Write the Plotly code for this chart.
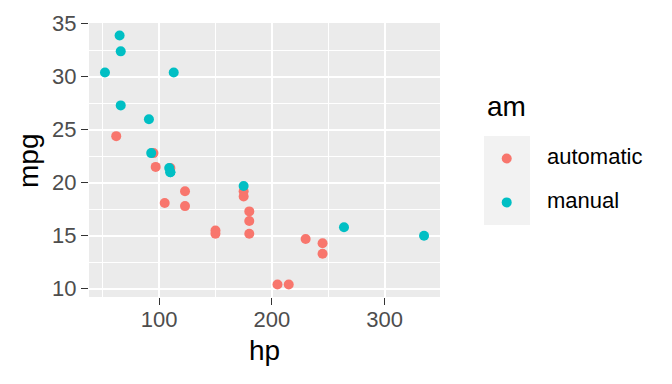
import plotly.graph_objects as go

# mtcars: hp, mpg, am
hp = [110, 110, 93, 110, 175, 105, 245, 62, 95, 123, 123, 180, 180, 180, 205, 215,
      230, 66, 52, 65, 97, 150, 150, 245, 175, 66, 91, 113, 264, 175, 335, 109]
mpg = [21.0, 21.0, 22.8, 21.4, 18.7, 18.1, 14.3, 24.4, 22.8, 19.2, 17.8, 16.4, 17.3, 15.2,
       10.4, 10.4, 14.7, 32.4, 30.4, 33.9, 21.5, 15.5, 15.2, 13.3, 19.2, 27.3, 26.0, 30.4,
       15.8, 19.7, 15.0, 21.4]
am = [1, 1, 1, 0, 0, 0, 0, 0, 0, 0, 0, 0, 0, 0, 0, 0,
      0, 1, 1, 1, 0, 0, 0, 0, 0, 1, 1, 1, 1, 1, 1, 1]
groups = ["automatic", "manual"]
colors = ["#F8766D", "#00BFC4"]
x_ticks = [100, 200, 300]
y_ticks = [10, 15, 20, 25, 30, 35]

W, H = 672, 384
L, R, T, B = 89, 440, 14, 297
FONT = "Liberation Sans, Arial, sans-serif"

def px(x):
    return (x - L) / (R - L)

def py(y):
    return (B - y) / (B - T)

fig = go.Figure()
for g, (name, col) in enumerate(zip(groups, colors)):
    xs = [h for h, a in zip(hp, am) if a == g]
    ys = [m for m, a in zip(mpg, am) if a == g]
    fig.add_trace(go.Scatter(x=xs, y=ys, mode="markers", name=name,
                             marker=dict(color=col, size=10, line=dict(width=0)),
                             showlegend=False))

axis_common = dict(
    showgrid=True, gridcolor="white", gridwidth=2,
    zeroline=False, showline=False,
    ticks="outside", ticklen=7, tickwidth=1.3, tickcolor="#333333",
    tickfont=dict(family=FONT, size=22, color="#4D4D4D"),
)
fig.update_xaxes(range=[37.85, 349.15], tickvals=x_ticks, ticklabelstandoff=-4,
                 minor=dict(tickvals=[50, 150, 250], showgrid=True, gridcolor="white",
                            gridwidth=1, ticks=""),
                 **axis_common)
fig.update_yaxes(range=[9.225, 35.075], tickvals=y_ticks,
                 minor=dict(tickvals=[12.5, 17.5, 22.5, 27.5, 32.5], showgrid=True,
                            gridcolor="white", gridwidth=1, ticks=""),
                 **axis_common)

shapes = [
    # legend key background
    dict(type="rect", xref="paper", yref="paper", x0=px(484), x1=px(530),
         y0=py(222.7), y1=py(130.7), fillcolor="#F2F2F2", line=dict(width=0), layer="below"),
]
key_y = [154, 199.3]
for ky, col in zip(key_y, colors):
    shapes.append(dict(type="circle", xref="paper", yref="paper",
                       xsizemode="pixel", ysizemode="pixel",
                       xanchor=px(506.7), yanchor=py(ky),
                       x0=-5, x1=5, y0=-5, y1=5,
                       fillcolor=col, line=dict(width=0)))

annotations = [
    dict(text="hp", xref="paper", yref="paper", x=px(264.5), y=py(352),
         xanchor="center", yanchor="middle", showarrow=False,
         font=dict(family=FONT, size=28, color="black")),
    dict(text="mpg", xref="paper", yref="paper", x=px(29), y=py(156.5),
         xanchor="center", yanchor="middle", showarrow=False, textangle=-90,
         font=dict(family=FONT, size=28, color="black")),
    dict(text="am", xref="paper", yref="paper", x=px(485), y=py(100),
         xanchor="left", yanchor="middle", showarrow=False,
         font=dict(family=FONT, size=28, color="black")),
]
for ky, name in zip(key_y, groups):
    annotations.append(dict(text=name, xref="paper", yref="paper", x=px(545), y=py(ky - 2),
                            xanchor="left", yanchor="middle", showarrow=False,
                            font=dict(family=FONT, size=22, color="black")))

fig.update_layout(
    width=W, height=H,
    margin=dict(l=L, r=W - R, t=T, b=H - B, pad=0),
    paper_bgcolor="white", plot_bgcolor="#EBEBEB",
    showlegend=False,
    shapes=shapes, annotations=annotations,
)
fig.write_html("out.html", config={"displayModeBar": False},
               post_script="document.body.style.margin='0';document.body.style.overflow='hidden';")
